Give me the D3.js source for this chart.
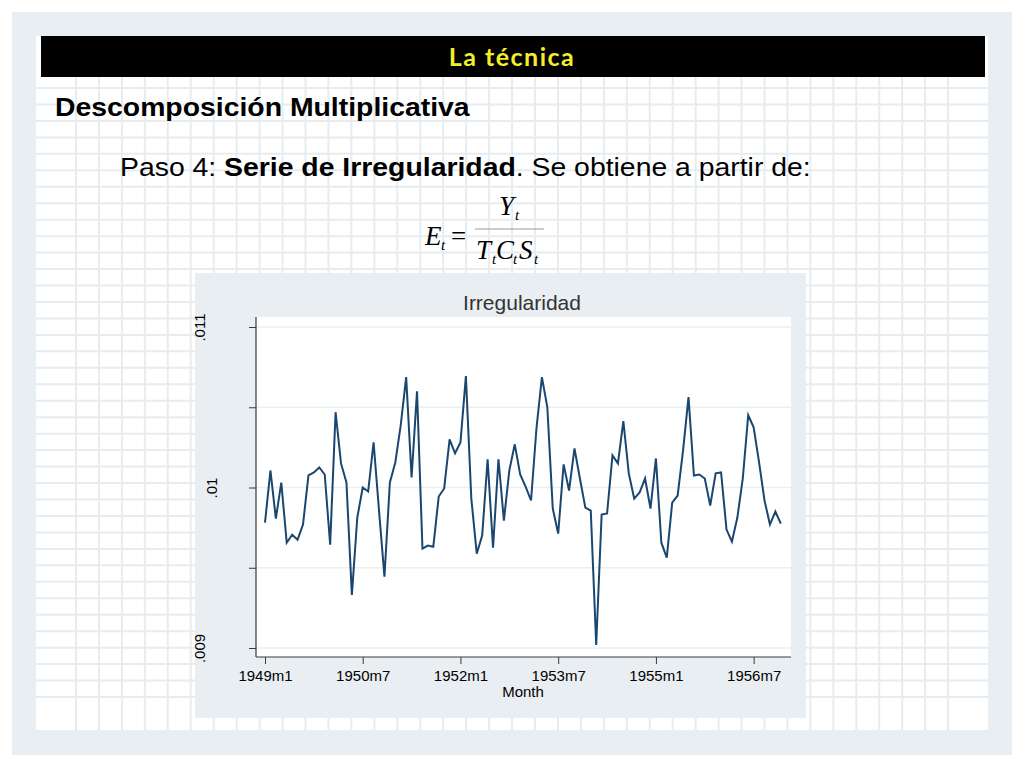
<!DOCTYPE html>
<html>
<head>
<meta charset="utf-8">
<script src="https://cdn.jsdelivr.net/npm/d3@7"></script>
<style>
  body { margin: 0; background: #fff; }
  svg { display: block; }
</style>
</head>
<body>
<svg id="slide" width="1024" height="768"></svg>
<script>
// irregular component, monthly 1949m1 .. 1956m12
var values = [
  0.009781, 0.010106, 0.009806, 0.010031, 0.009656, 0.009706, 0.009675, 0.009769, 0.010075, 0.010094, 0.010125, 0.010081,
  0.009644, 0.010469, 0.010150, 0.010031, 0.009331, 0.009813, 0.010000, 0.009975, 0.010281, 0.009856, 0.009444, 0.010031,
  0.010156, 0.010388, 0.010688, 0.010063, 0.010600, 0.009619, 0.009638, 0.009631, 0.009944, 0.009994, 0.010300, 0.010213,
  0.010281, 0.010694, 0.009931, 0.009588, 0.009700, 0.010175, 0.009625, 0.010175, 0.009794, 0.010106, 0.010269, 0.010081,
  0.010006, 0.009919, 0.010369, 0.010688, 0.010500, 0.009869, 0.009713, 0.010144, 0.009981, 0.010244, 0.010056, 0.009875,
  0.009856, 0.009019, 0.009831, 0.009838, 0.010200, 0.010150, 0.010413, 0.010088, 0.009931, 0.009969, 0.010056, 0.009869,
  0.010181, 0.009656, 0.009563, 0.009906, 0.009950, 0.010231, 0.010563, 0.010075, 0.010081, 0.010056, 0.009888, 0.010088,
  0.010094, 0.009738, 0.009663, 0.009813, 0.010056, 0.010450, 0.010375, 0.010156, 0.009919, 0.009769, 0.009850, 0.009775
];
var xTickIdx = [0, 18, 36, 54, 72, 90];
var xTickLabels = ["1949m1", "1950m7", "1952m1", "1953m7", "1955m1", "1956m7"];
var yTicks = [0.009, 0.0095, 0.01, 0.0105, 0.011];
var yTickLabels = [".009", "", ".01", "", ".011"];

var svg = d3.select("#slide");

// slide background
svg.append("rect").attr("x", 12).attr("y", 12).attr("width", 1000).attr("height", 743).attr("fill", "#e8eef1");
svg.append("rect").attr("x", 36).attr("y", 36).attr("width", 952).attr("height", 694).attr("fill", "#fff");

var grid = svg.append("g").attr("stroke", "#e6ecef").attr("stroke-width", 2);
for (var k = 0; k <= 38; k++) {
    var gx = 76 + k * 22.95;
    grid.append("line").attr("x1", gx).attr("x2", gx).attr("y1", 77).attr("y2", 730);
}
for (var j = 0; j <= 37; j++) {
    var gy = 88 + j * 16.46;
    grid.append("line").attr("x1", 36).attr("x2", 988).attr("y1", gy).attr("y2", gy);
}

// header bar
svg.append("rect").attr("x", 41).attr("y", 36).attr("width", 944).attr("height", 41).attr("fill", "#000");
svg.append("text").attr("x", 512).attr("y", 66).attr("text-anchor", "middle")
    .style("font-family", "Lato, 'DejaVu Sans', sans-serif").style("font-weight", "bold")
    .style("font-size", "25px").style("letter-spacing", "1.5px").attr("fill", "#f4ee2a").text("La técnica");

// slide text is a little stretched sideways in the original
svg.append("g").attr("transform", "translate(55,116) scale(1.135,1)")
  .append("text")
    .style("font-family", "'Liberation Sans', Arial, sans-serif").style("font-weight", "bold")
    .style("font-size", "25px").attr("fill", "#000").text("Descomposición Multiplicativa");

var paso = svg.append("g").attr("transform", "translate(120,176) scale(1.135,1)")
  .append("text")
    .style("font-family", "'Liberation Sans', Arial, sans-serif")
    .style("font-size", "25px").attr("fill", "#000");
paso.append("tspan").text("Paso 4: ");
paso.append("tspan").style("font-weight", "bold").text("Serie de Irregularidad");
paso.append("tspan").text(". Se obtiene a partir de:");

// formula E_t = Y_t / (T_t C_t S_t)
var f = svg.append("g").style("font-family", "'Liberation Serif', 'Times New Roman', serif")
    .style("font-style", "italic").attr("fill", "#000");
function sym(g, letter, sub, x0, base) {
    g.append("text").attr("x", x0).attr("y", base).style("font-size", "27px").text(letter);
    g.append("text").attr("x", x0 + 16).attr("y", base + 5).style("font-size", "15px").text(sub);
}
sym(f, "E", "t", 425, 245);
f.append("text").attr("x", 451).attr("y", 245).style("font-style", "normal").style("font-size", "27px").text("=");
sym(f, "Y", "t", 499, 215);
f.append("line").attr("x1", 475).attr("x2", 544).attr("y1", 229).attr("y2", 229)
    .attr("stroke", "#999").attr("stroke-width", 1);
sym(f, "T", "t", 476, 259);
f.append("text").attr("x", 496).attr("y", 259).style("font-size", "27px").text("C");
f.append("text").attr("x", 513).attr("y", 264).style("font-size", "15px").text("t");
f.append("text").attr("x", 519).attr("y", 259).style("font-size", "27px").text("S");
f.append("text").attr("x", 534).attr("y", 264).style("font-size", "15px").text("t");

// chart panel
svg.append("rect").attr("x", 195).attr("y", 273).attr("width", 611).attr("height", 445).attr("fill", "#e9eef2");
svg.append("rect").attr("x", 256).attr("y", 317).attr("width", 535).attr("height", 340).attr("fill", "#fff");

var x = d3.scaleLinear().domain([0, 95]).range([265, 780.8]);
var y = d3.scaleLinear().domain([0.009, 0.011]).range([648, 327]);

var chart = svg.append("g").style("font-family", "'Liberation Sans', Arial, sans-serif");

chart.selectAll("line.grid").data(yTicks).enter().append("line")
    .attr("class", "grid")
    .attr("x1", 256).attr("x2", 791)
    .attr("y1", function(d) { return y(d); }).attr("y2", function(d) { return y(d); })
    .attr("stroke", "#eaeff2").attr("stroke-width", 1.5);

var yAxis = chart.append("g").attr("transform", "translate(256,0)")
    .call(d3.axisLeft(y).tickValues(yTicks).tickSize(7).tickFormat(function(d, i) { return yTickLabels[i]; }));
yAxis.select(".domain").remove();
yAxis.selectAll(".tick line").attr("stroke", "#3a3a3a");
yAxis.selectAll(".tick text")
    .attr("x", 0).attr("y", 0).attr("dy", 0)
    .attr("text-anchor", "middle")
    .attr("transform", function(d, i) { return yTickLabels[i] === ".01" ? "translate(-39,0) rotate(-90)" : "translate(-51,0) rotate(-90)"; })
    .style("font-size", "15px").attr("fill", "#000");

var xAxis = chart.append("g").attr("transform", "translate(0,657)")
    .call(d3.axisBottom(x).tickValues(xTickIdx).tickSize(7).tickFormat(function(d, i) { return xTickLabels[i]; }));
xAxis.select(".domain").remove();
xAxis.selectAll(".tick line").attr("stroke", "#3a3a3a");
xAxis.selectAll(".tick text").attr("y", 24).attr("dy", 0).style("font-size", "15px").attr("fill", "#000");

chart.append("line").attr("x1", 256).attr("x2", 256).attr("y1", 317).attr("y2", 657).attr("stroke", "#3a3a3a").attr("stroke-width", 1.2);
chart.append("line").attr("x1", 256).attr("x2", 791).attr("y1", 657).attr("y2", 657).attr("stroke", "#3a3a3a").attr("stroke-width", 1.2);

var line = d3.line()
    .x(function(d, i) { return x(i); })
    .y(function(d) { return y(d); });
chart.append("path").datum(values).attr("d", line)
    .attr("fill", "none").attr("stroke", "#1a476f").attr("stroke-width", 2).attr("stroke-linejoin", "miter");

chart.append("text").attr("x", 522).attr("y", 310).attr("text-anchor", "middle")
    .style("font-size", "21px").attr("fill", "#333").text("Irregularidad");
chart.append("text").attr("x", 523).attr("y", 697).attr("text-anchor", "middle")
    .style("font-size", "15px").attr("fill", "#000").text("Month");
</script>
</body>
</html>
